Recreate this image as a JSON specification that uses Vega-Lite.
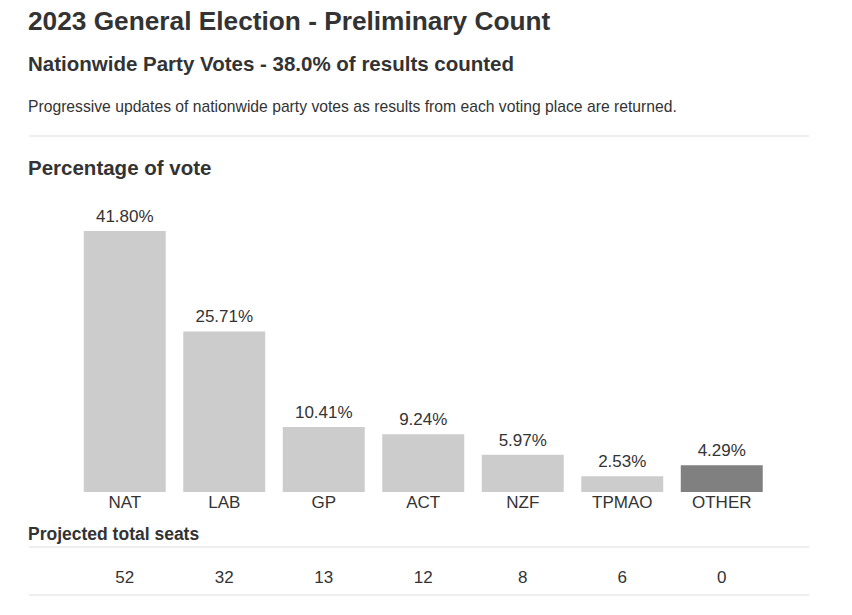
{
  "$schema": "https://vega.github.io/schema/vega-lite/v6.json",
  "background": "white",
  "padding": {"left": 28, "top": 8, "right": 10, "bottom": 0},
  "config": {
    "font": "Liberation Sans",
    "view": {"stroke": null},
    "title": {"color": "#333333", "anchor": "start", "font": "Liberation Sans", "subtitleFont": "Liberation Sans"},
    "axis": {"labelFont": "Liberation Sans"}
  },
  "title": {
    "text": "2023 General Election - Preliminary Count",
    "subtitle": "Nationwide Party Votes - 38.0% of results counted",
    "fontSize": 26.25,
    "fontWeight": "bold",
    "subtitleFontSize": 20.5,
    "subtitleFontWeight": "bold",
    "subtitleColor": "#333333",
    "subtitlePadding": 20.5,
    "anchor": "start",
    "offset": 23.5
  },
  "datasets": {
    "parties": [
      {"party": "NAT", "share": 0.4180, "seats": 52},
      {"party": "LAB", "share": 0.2571, "seats": 32},
      {"party": "GP", "share": 0.1041, "seats": 13},
      {"party": "ACT", "share": 0.0924, "seats": 12},
      {"party": "NZF", "share": 0.0597, "seats": 8},
      {"party": "TPMAO", "share": 0.0253, "seats": 6},
      {"party": "OTHER", "share": 0.0429, "seats": 0}
    ],
    "edges": [{"edge": 0}, {"edge": 1}],
    "topedge": [{"edge": 1}]
  },
  "spacing": 14,
  "vconcat": [
    {
      "width": 780,
      "height": 8,
      "title": {"text": "Progressive updates of nationwide party votes as results from each voting place are returned.", "fontSize": 15.7, "fontWeight": "normal", "offset": 19},
      "data": {"name": "topedge"},
      "mark": {"type": "rule", "color": "#eeeeee", "strokeWidth": 2},
      "encoding": {
        "y": {"field": "edge", "type": "quantitative", "scale": {"domain": [0, 1]}, "axis": null}
      }
    },
    {
      "width": 780,
      "height": 281,
      "title": {"text": "Percentage of vote", "fontSize": 20.5, "fontWeight": "bold", "offset": 28.5, "dx": -1},
      "data": {"name": "parties"},
      "encoding": {
        "x": {
          "field": "party", "type": "nominal", "sort": null,
          "scale": {"range": [46, 742.5], "paddingInner": 0.176, "paddingOuter": 0.088},
          "axis": {"title": null, "labelAngle": 0, "ticks": false, "domain": false, "labelFontSize": 17, "labelColor": "#333333", "labelPadding": 2.5}
        },
        "y": {"field": "share", "type": "quantitative", "scale": {"domain": [0, 0.45], "nice": false}, "axis": null}
      },
      "layer": [
        {
          "mark": {"type": "bar"},
          "encoding": {
            "color": {"condition": {"test": "datum.party === 'OTHER'", "value": "#808080"}, "value": "#cccccc"}
          }
        },
        {
          "mark": {"type": "text", "fontSize": 17, "color": "#333333", "baseline": "alphabetic", "dy": -9},
          "encoding": {"text": {"field": "share", "type": "quantitative", "format": ".2%"}}
        }
      ]
    },
    {
      "width": 780,
      "height": 48,
      "title": {"text": "Projected total seats", "fontSize": 17.5, "fontWeight": "bold", "offset": 3},
      "layer": [
        {
          "data": {"name": "edges"},
          "mark": {"type": "rule", "color": "#eeeeee", "strokeWidth": 2},
          "encoding": {
            "y": {"field": "edge", "type": "quantitative", "scale": {"domain": [0, 1]}, "axis": null}
          }
        },
        {
          "data": {"name": "parties"},
          "mark": {"type": "text", "fontSize": 17, "color": "#333333", "dy": 6.5},
          "encoding": {
            "x": {
              "field": "party", "type": "nominal", "sort": null,
              "scale": {"range": [46, 742.5], "paddingInner": 0.176, "paddingOuter": 0.088},
              "axis": null
            },
            "text": {"field": "seats", "type": "quantitative"}
          }
        }
      ]
    }
  ]
}
